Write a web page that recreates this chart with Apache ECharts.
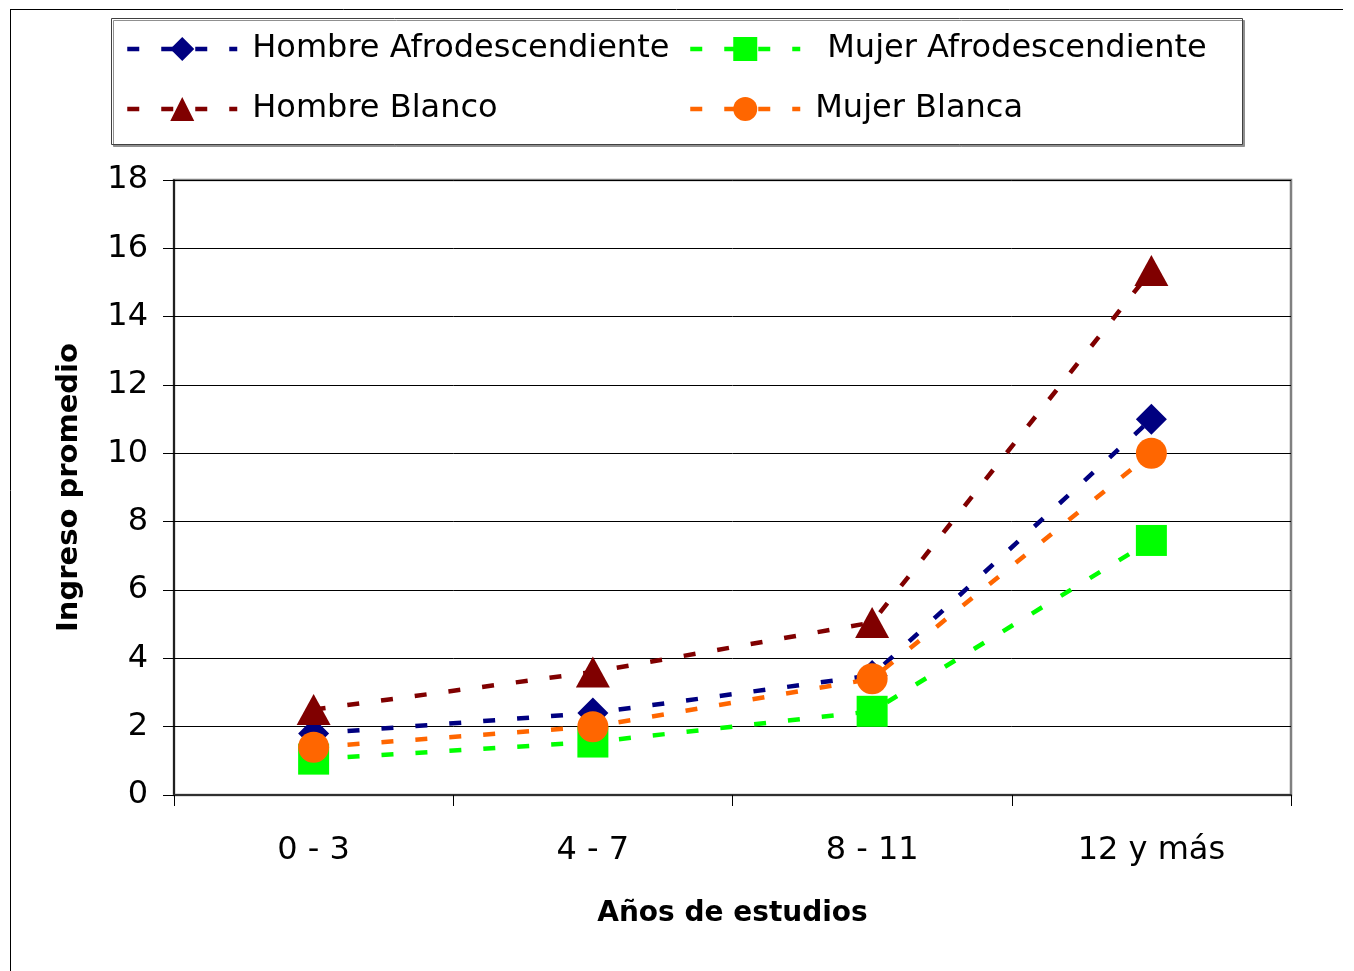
<!DOCTYPE html>
<html>
<head>
<meta charset="utf-8">
<script src="https://cdn.jsdelivr.net/npm/echarts@6/dist/echarts.min.js"></script>
<style>
html,body{margin:0;padding:0;background:#fff;}
#chart{width:1354px;height:971px;}
</style>
</head>
<body>
<div id="chart"></div>
<script>
// Data
var categories = ['0 - 3', '4 - 7', '8 - 11', '12 y más'];
var hombreAfro = [1.8, 2.4, 3.5, 11.0];
var mujerAfro = [1.05, 1.55, 2.45, 7.45];
var hombreBlanco = [2.5, 3.6, 5.05, 15.35];
var mujerBlanca = [1.4, 2.0, 3.4, 10.0];
var yTicks = {min: 0, max: 18, interval: 2};
var seriesNames = ['Hombre Afrodescendiente', 'Mujer Afrodescendiente', 'Hombre Blanco', 'Mujer Blanca'];

var FONT = 'DejaVu Sans';
var chart = echarts.init(document.getElementById('chart'));

function mkSeries(name, data, color, symbol, size) {
  return {
    name: name, type: 'line', data: data,
    symbol: symbol, symbolSize: size,
    itemStyle: {color: color},
    lineStyle: {color: color, width: 4.5, type: [12, 22]},
    emphasis: {disabled: true}
  };
}
function mkLegend(name, left, top, pad) {
  return {
    data: [name], left: left, top: top, padding: 0,
    itemWidth: 110, itemHeight: 30, z: 10,
    selectedMode: false,
    lineStyle: {width: 4.5},
    textStyle: {fontFamily: FONT, fontSize: 32, color: '#000', lineHeight: 36, padding: [0, 0, 0, pad]}
  };
}

chart.setOption({
  animation: false,
  backgroundColor: '#fff',
  graphic: [
    {type: 'line', z: 0, shape: {x1: 10.5, y1: 10, x2: 10.5, y2: 971}, style: {stroke: '#000', lineWidth: 1}},
    {type: 'line', z: 0, shape: {x1: 10, y1: 9.5, x2: 1343, y2: 9.5}, style: {stroke: '#000', lineWidth: 1}},
    {type: 'rect', z: 0, shape: {x: 111.5, y: 18.5, width: 1131, height: 126},
      style: {fill: '#fff', stroke: '#404040', lineWidth: 1, shadowColor: '#909090', shadowOffsetX: 2, shadowOffsetY: 2, shadowBlur: 0}}
  ],
  legend: [
    mkLegend(seriesNames[0], 125, 31, 10),
    mkLegend(seriesNames[1], 688, 31, 22),
    mkLegend(seriesNames[2], 125, 91, 10),
    mkLegend(seriesNames[3], 688, 91, 10)
  ],
  grid: {left: 174, right: 63, top: 180, bottom: 176, show: true, borderColor: '#808080', borderWidth: 2.5, backgroundColor: '#fff'},
  xAxis: {
    type: 'category', data: categories, boundaryGap: true,
    axisLine: {lineStyle: {color: '#303030', width: 2}},
    axisTick: {show: true, length: 11, lineStyle: {color: '#000', width: 1}},
    axisLabel: {fontFamily: FONT, fontSize: 32, color: '#000', margin: 40},
    name: 'Años de estudios', nameLocation: 'middle', nameGap: 105,
    nameTextStyle: {fontFamily: FONT, fontSize: 28, fontWeight: 'bold', color: '#000'}
  },
  yAxis: {
    type: 'value', min: yTicks.min, max: yTicks.max, interval: yTicks.interval,
    axisLine: {show: true, lineStyle: {color: '#000', width: 1.5}},
    axisTick: {show: true, length: 11, lineStyle: {color: '#000', width: 1}},
    axisLabel: {fontFamily: FONT, fontSize: 32, color: '#000', margin: 26},
    splitLine: {show: true, lineStyle: {color: '#000', width: 1}},
    name: 'Ingreso promedio', nameLocation: 'middle', nameGap: 90, nameRotate: 90,
    nameTextStyle: {fontFamily: FONT, fontSize: 29, fontWeight: 'bold', color: '#000'}
  },
  series: [
    mkSeries(seriesNames[0], hombreAfro, '#000080', 'diamond', [31, 31]),
    mkSeries(seriesNames[1], mujerAfro, '#00FF00', 'rect', [31, 31]),
    mkSeries(seriesNames[2], hombreBlanco, '#800000', 'triangle', [34, 31]),
    mkSeries(seriesNames[3], mujerBlanca, '#FF6600', 'circle', 31)
  ]
});
</script>
</body>
</html>
